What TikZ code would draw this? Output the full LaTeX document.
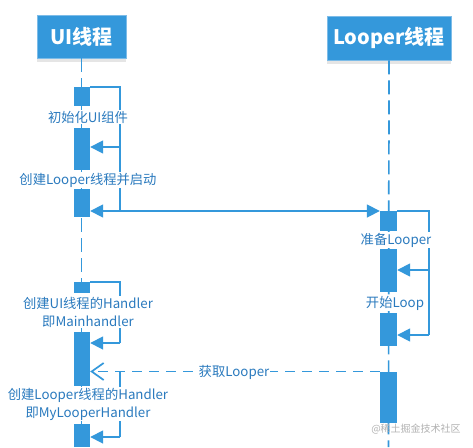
\documentclass[tikz,border=0pt]{standalone}
\usepackage{fontspec}
\setmainfont{Noto Sans CJK SC}
\usetikzlibrary{arrows.meta,shadows}
\definecolor{lineblue}{RGB}{52,152,219}
\definecolor{txtblue}{RGB}{42,122,190}
\definecolor{boxedge}{RGB}{125,188,232}
\begin{document}
\begin{tikzpicture}[x=1pt,y=-1pt,
  bar/.style={fill=lineblue, draw=none, minimum width=16pt, inner sep=0pt, anchor=north},
  hdr/.style={fill=lineblue, draw=boxedge, line width=0.8pt, text=white, inner sep=0pt,
    font=\fontsize{20}{24}\selectfont\bfseries,
    drop shadow={shadow xshift=0pt, shadow yshift=-4pt, opacity=0.2, fill=gray}},
  lbl/.style={fill=white, text=txtblue, font=\fontsize{13.3}{18}\selectfont, inner sep=1pt, align=center},
  wire/.style={draw=lineblue, line width=1.7pt},
  life/.style={draw=lineblue, line width=1.7pt, dash pattern=on 14pt off 6pt},
  msg/.style={wire, -{Triangle[length=13pt,width=13pt]}},
  ret/.style={wire, dash pattern=on 10pt off 7pt, -{Straight Barb[length=12pt,width=17pt]}}]
\fill[white] (0,0) rectangle (473,447);
\useasboundingbox (0,0) rectangle (473,447);
% headers
\node[hdr, minimum width=89pt, minimum height=43pt] (ui) at (81.5,36.5) {UI线程};
\node[hdr, minimum width=124pt, minimum height=44pt] (lp) at (389,38) {Looper线程};
% lifelines
\coordinate (ubot) at (81.5,447);
\coordinate (lbot) at (388.5,447);
\draw[life] (ui.south) -- (ubot);
\draw[life] (lp.south) -- (lbot);
% UI bars
\node[bar, minimum height=19pt] (u1) at (82,87) {};
\node[bar, minimum height=42pt] (u2) at (82,128) {};
\node[bar, minimum height=28pt] (u3) at (82,189) {};
\node[bar, minimum height=11pt] (u4) at (82,282) {};
\node[bar, minimum height=54pt] (u5) at (82,332) {};
\node[bar, minimum height=23pt] (u6) at (82,424) {};
% Looper bars
\node[bar, minimum width=17pt, minimum height=20pt] (L1) at (388.5,211) {};
\node[bar, minimum width=17pt, minimum height=43pt] (L2) at (388.5,249) {};
\node[bar, minimum width=17pt, minimum height=33pt] (L3) at (388.5,313) {};
\node[bar, minimum width=17pt, minimum height=51pt] (L4) at (388.5,371.5) {};
% turn points
\coordinate (c1) at (120,147);
\coordinate (c2) at (120,211);
\coordinate (c3) at (120,343);
\coordinate (c5) at (120,437);
\coordinate (d1) at (429,270);
\coordinate (d2) at (429,335);
\coordinate (c4) at (c3 |- L4.north);
% UI self messages
\draw[wire] (u1.north east) -| (c1);
\draw[msg] (c1) -- (u2.east |- c1);
\draw[wire] (c1) -- (c2);
\draw[msg] (c2) -- (u3.east |- c2);
% UI -> Looper
\draw[msg] (c2) -- (L1.north west);
% Looper self messages
\draw[wire] (L1.north east) -| (d1);
\draw[msg] (d1) -- (L2.east |- d1);
\draw[wire] (d1) -- (d2);
\draw[msg] (d2) -- (L3.east |- d2);
% UI handler
\draw[wire] (u4.north east) -| (c3);
\draw[msg] (c3) -- (u5.east |- c3);
% return
\draw[ret] (L4.north west) -- (u5.east |- L4.north west);
\draw[wire] (c4) -- (c5);
\draw[msg] (c5) -- (u6.east |- c5);
% labels
\node[lbl] (t1) at (88,117) {初始化UI组件};
\node[lbl] (t2) at (88,180) {创建Looper线程并启动};
\node[lbl] (t3) at (88,312) {创建UI线程的Handler\\即Mainhandler};
\node[lbl] (t4) at (88,404) {创建Looper线程的Handler\\即MyLooperHandler};
\node[lbl] (t5) at (396,240) {准备Looper};
\node[lbl] (t6) at (395,303) {开始Loop};
\node[lbl] (t7) at (234,372) {获取Looper};
\node[text=gray!60, font=\fontsize{10}{12}\selectfont, inner sep=0pt] (wm) at (416,429) {@稀土掘金技术社区};
\end{tikzpicture}
\end{document}
